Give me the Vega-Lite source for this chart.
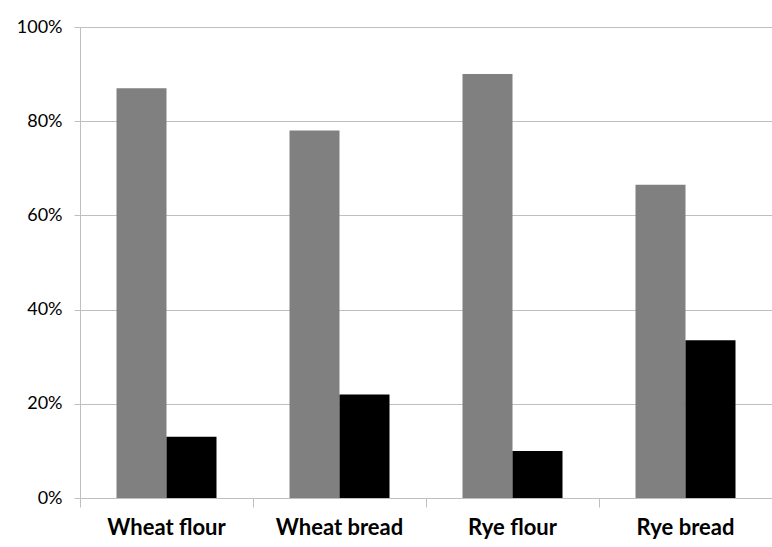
{
  "$schema": "https://vega.github.io/schema/vega-lite/v6.json",
  "autosize": {"type": "none"},
  "width": 692,
  "height": 471,
  "padding": {"left": 80, "top": 27, "right": 0, "bottom": 49},
  "background": "white",
  "data": {
    "values": [
      {"category": "Wheat flour", "series": "Series 1", "value": 0.87},
      {"category": "Wheat flour", "series": "Series 2", "value": 0.13},
      {"category": "Wheat bread", "series": "Series 1", "value": 0.78},
      {"category": "Wheat bread", "series": "Series 2", "value": 0.22},
      {"category": "Rye flour", "series": "Series 1", "value": 0.90},
      {"category": "Rye flour", "series": "Series 2", "value": 0.10},
      {"category": "Rye bread", "series": "Series 1", "value": 0.665},
      {"category": "Rye bread", "series": "Series 2", "value": 0.335}
    ]
  },
  "mark": {"type": "bar"},
  "encoding": {
    "x": {
      "field": "category",
      "type": "nominal",
      "sort": ["Wheat flour", "Wheat bread", "Rye flour", "Rye bread"],
      "scale": {"paddingInner": 0, "paddingOuter": 0},
      "axis": {
        "title": null,
        "labelAngle": 0,
        "labelFont": "Lato",
        "labelFontSize": 22,
        "labelFontWeight": "bold",
        "labelColor": "#000000",
        "labelPadding": 10,
        "bandPosition": 0,
        "tickSize": 9,
        "tickColor": "#bfbfbf",
        "domainColor": "#bfbfbf",
        "grid": false
      }
    },
    "xOffset": {
      "field": "series",
      "type": "nominal",
      "scale": {"paddingInner": 0, "paddingOuter": 0.73}
    },
    "y": {
      "field": "value",
      "type": "quantitative",
      "scale": {"domain": [0, 1], "nice": false},
      "axis": {
        "title": null,
        "values": [0, 0.2, 0.4, 0.6, 0.8, 1.0],
        "format": ".0%",
        "labelFont": "Lato",
        "labelFontSize": 18,
        "labelColor": "#000000",
        "labelPadding": 12,
        "tickSize": 6,
        "tickColor": "#bfbfbf",
        "domainColor": "#bfbfbf",
        "gridColor": "#bfbfbf",
        "grid": true
      }
    },
    "color": {
      "field": "series",
      "type": "nominal",
      "scale": {"domain": ["Series 1", "Series 2"], "range": ["#808080", "#000000"]},
      "legend": null
    }
  },
  "config": {
    "view": {"stroke": null}
  }
}
